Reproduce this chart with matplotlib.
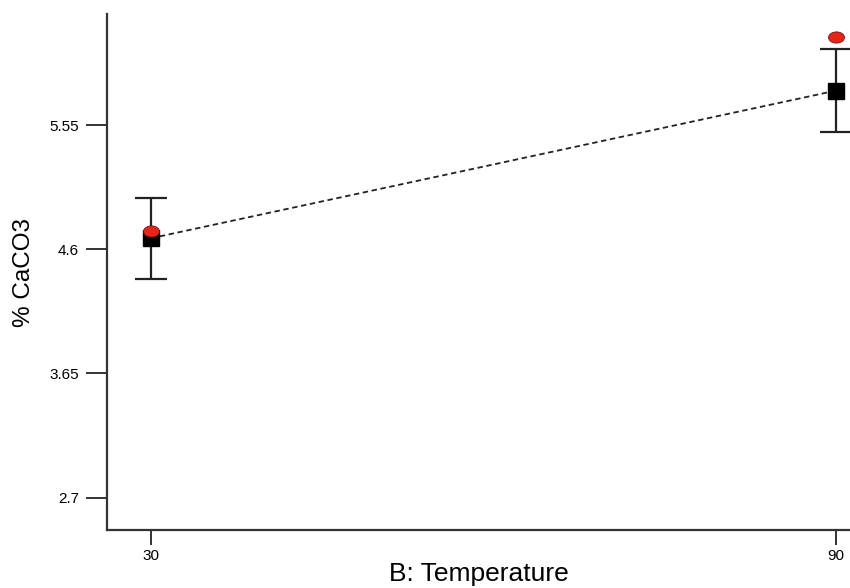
import numpy as np
import matplotlib.pyplot as plt
from matplotlib.path import Path
from matplotlib.transforms import Affine2D

plt.rcParams["font.family"] = ["Liberation Sans", "DejaVu Sans"]

# data
temps = [30, 90]
predicted = [4.684, 5.813]
ci_half = [0.31, 0.317]
actual = [4.738, 6.226]
yticks = [2.7, 3.65, 4.6, 5.55]
xticks = [30, 90]

# flattened circle like the design-point dots
oval = Path.unit_circle().transformed(Affine2D().scale(1.0, 0.7))

fig = plt.figure(figsize=(8.5, 5.88), dpi=100)
ax = fig.add_axes([0.1259, 0.0986, 0.8741, 0.8776])

ax.plot(temps, predicted, linestyle=(0, (3, 2)), color="#222222", lw=1.3, zorder=2)
ax.errorbar(temps, predicted, yerr=ci_half, fmt="none", ecolor="#222222",
            elinewidth=1.6, capsize=11.5, capthick=1.6, zorder=3)
ax.plot(temps, predicted, "s", color="black", ms=11, zorder=4)
ax.plot(temps, actual, linestyle="none", marker=oval, ms=11.5,
        markerfacecolor="#e32619", markeredgecolor="#7a1010", mew=0.6, zorder=5)

ax.set_xlim(26.15, 91.23)
ax.set_ylim(2.453, 6.399)
ax.set_xticks(xticks)
ax.set_xticklabels([str(t) for t in xticks])
ax.set_yticks(yticks)
ax.set_yticklabels([str(t) for t in yticks])

for side in ["top", "right"]:
    ax.spines[side].set_visible(False)
for side in ["left", "bottom"]:
    ax.spines[side].set_color("#333333")
    ax.spines[side].set_linewidth(1.6)

ax.tick_params(axis="y", direction="out", length=15, width=1.4, color="#333333",
               labelsize=11, pad=5)
ax.tick_params(axis="x", direction="out", length=11, width=1.4, color="#333333",
               labelsize=11, pad=3)

ax.set_xlabel("B: Temperature", fontsize=19)
ax.set_ylabel("% CaCO3", fontsize=17.5)
ax.xaxis.set_label_coords(0.5, -0.086)
ax.yaxis.set_label_coords(-0.112, 0.5)
ax.xaxis.label.set_va("center")
ax.yaxis.label.set_va("center")

plt.savefig("out.png", dpi=100)
